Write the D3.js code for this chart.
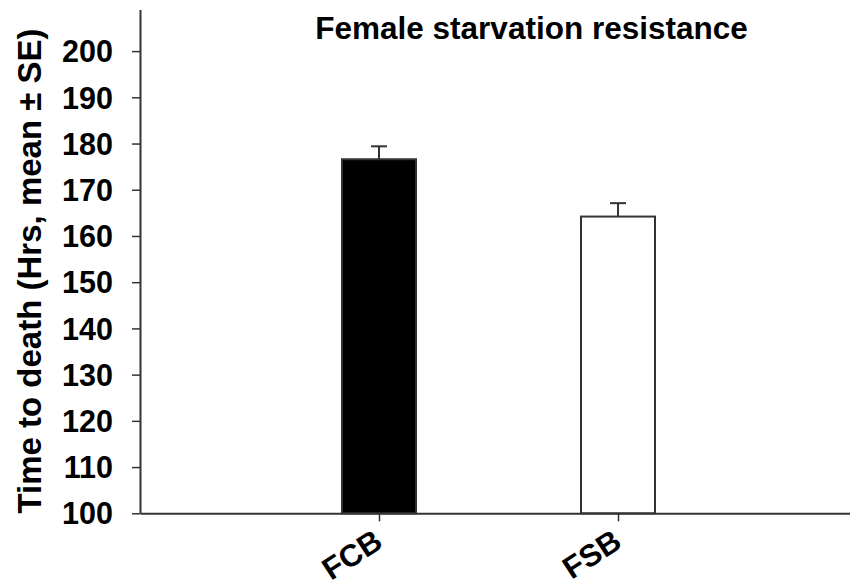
<!DOCTYPE html>
<html>
<head>
<meta charset="utf-8">
<script src="https://cdn.jsdelivr.net/npm/d3@7"></script>
<style>
  body { margin: 0; background: #fff; }
  text { font-family: "Liberation Sans", Arial, sans-serif; font-weight: bold; fill: #000; }
</style>
</head>
<body>
<div id="chart"></div>
<script>
// data
var groups = ["FCB", "FSB"];
var means = [176.6, 164.2];
var errors = [2.8, 2.9];
var fills = ["#000000", "#ffffff"];
var yTicks = [100, 110, 120, 130, 140, 150, 160, 170, 180, 190, 200];

var width = 850, height = 587;

var svg = d3.select("#chart")
  .append("svg")
  .attr("width", width)
  .attr("height", height);

// x is a linear position scale (groups at 1 and 2)
var x = d3.scaleLinear().domain([0, 3]).range([140, 857]);
var y = d3.scaleLinear().domain([100, 209]).range([513.3, 9.5]);

var barW = 74;

// bars
svg.selectAll("rect.bar")
  .data(means)
  .enter()
  .append("rect")
  .attr("class", "bar")
  .attr("x", function (d, i) { return x(i + 1) - barW / 2; })
  .attr("y", function (d) { return y(d); })
  .attr("width", barW)
  .attr("height", function (d) { return y(100) - y(d); })
  .style("fill", function (d, i) { return fills[i]; })
  .style("stroke", "#333")
  .style("stroke-width", 2);

// error bars (upper only)
var err = svg.selectAll("g.err")
  .data(means)
  .enter()
  .append("g")
  .attr("class", "err");
err.append("line")
  .attr("x1", function (d, i) { return x(i + 1); })
  .attr("x2", function (d, i) { return x(i + 1); })
  .attr("y1", function (d) { return y(d); })
  .attr("y2", function (d, i) { return y(d + errors[i]); })
  .style("stroke", "#333")
  .style("stroke-width", 2);
err.append("line")
  .attr("x1", function (d, i) { return x(i + 1) - 8; })
  .attr("x2", function (d, i) { return x(i + 1) + 8; })
  .attr("y1", function (d, i) { return y(d + errors[i]); })
  .attr("y2", function (d, i) { return y(d + errors[i]); })
  .style("stroke", "#333")
  .style("stroke-width", 2);

// y axis
var yAxis = svg.append("g")
  .attr("transform", "translate(140,0)")
  .call(d3.axisLeft(y).tickValues(yTicks).tickSize(8).tickPadding(19).tickSizeOuter(0));
yAxis.select(".domain").style("stroke", "#333").style("stroke-width", 2);
yAxis.selectAll(".tick line").style("stroke", "#333").style("stroke-width", 1.5);
yAxis.selectAll("text")
  .style("font-size", "30.5px")
  .style("font-family", "'Liberation Sans', Arial, sans-serif")
  .style("font-weight", "bold")
  .attr("dy", "0.35em");

// x axis
var xAxis = svg.append("g")
  .attr("transform", "translate(0," + y(100) + ")")
  .call(d3.axisBottom(x).tickValues([1, 2]).tickSize(8).tickSizeOuter(0)
    .tickFormat(function (d) { return groups[d - 1]; }));
xAxis.select(".domain").style("stroke", "#333").style("stroke-width", 2);
xAxis.selectAll(".tick line").style("stroke", "#333").style("stroke-width", 1.5);
xAxis.selectAll("text")
  .style("font-size", "31px")
  .style("font-family", "'Liberation Sans', Arial, sans-serif")
  .style("font-weight", "bold")
  .style("text-anchor", "end")
  .attr("dy", null)
  .attr("y", 0)
  .attr("transform", "translate(5,33) rotate(-33)");

// title
svg.append("text")
  .attr("x", 531.5)
  .attr("y", 39)
  .attr("text-anchor", "middle")
  .style("font-size", "31.5px")
  .text("Female starvation resistance");

// y label
svg.append("text")
  .attr("transform", "translate(41,271) rotate(-90)")
  .attr("text-anchor", "middle")
  .style("font-size", "33px")
  .text("Time to death (Hrs, mean \u00b1 SE)");
</script>
</body>
</html>
